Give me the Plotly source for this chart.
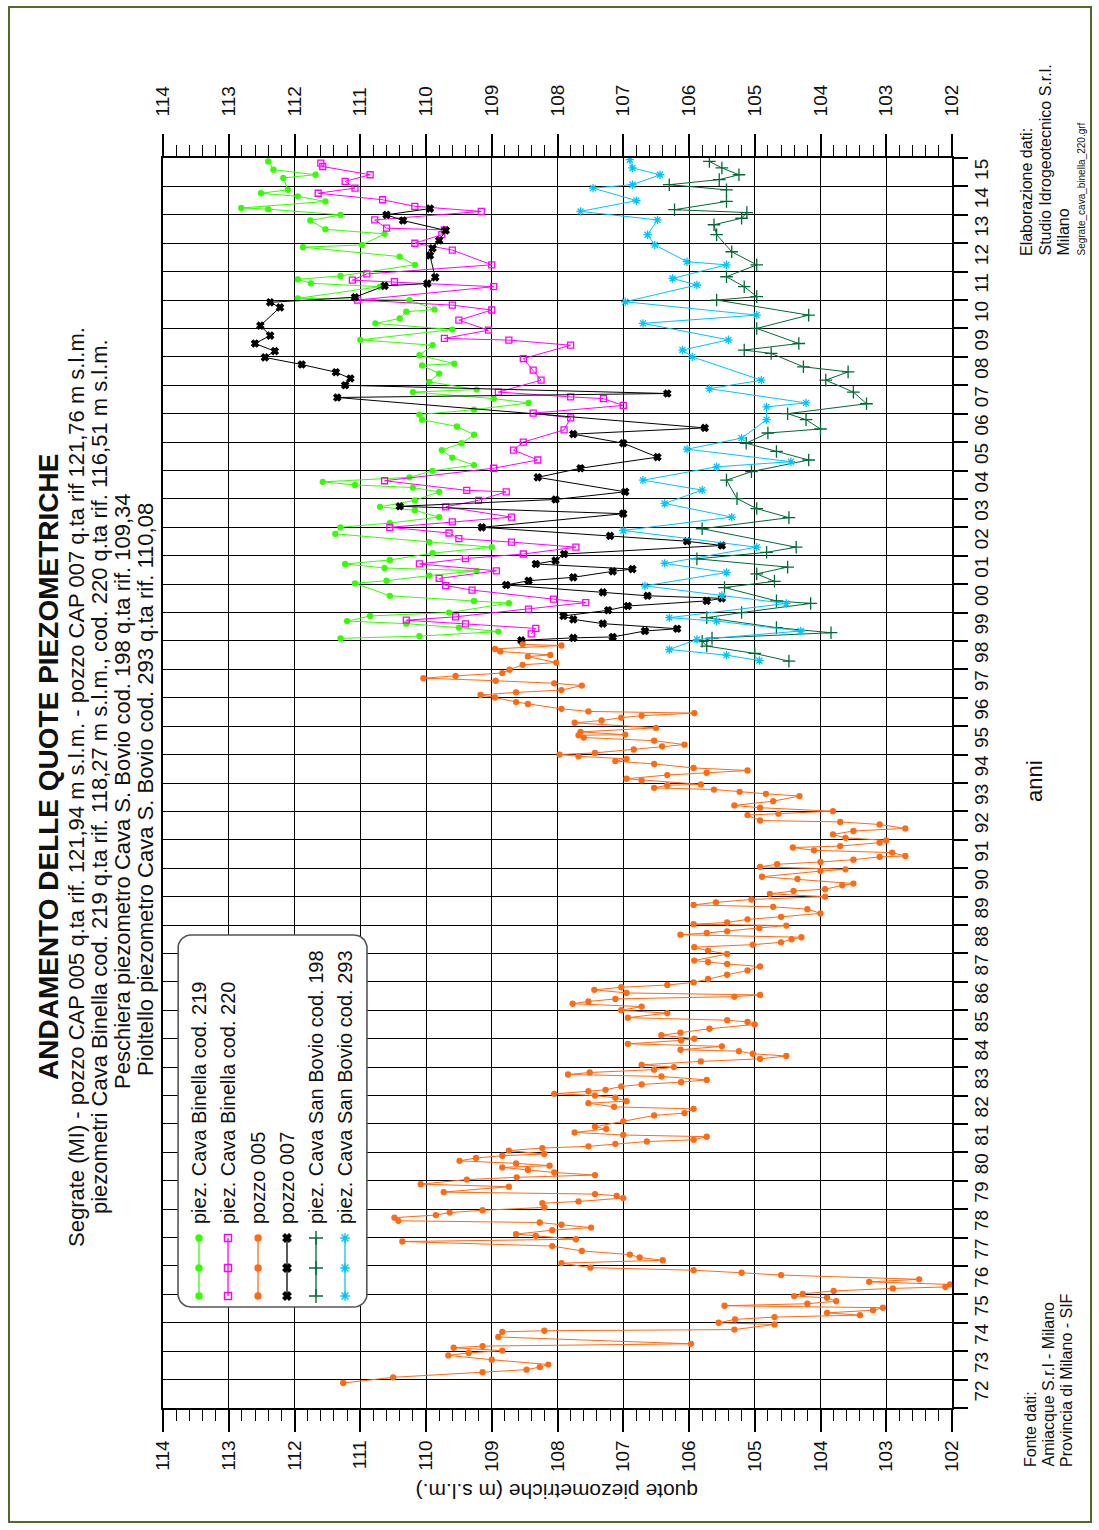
import numpy as np
import plotly.graph_objects as go

FONT = "Liberation Sans, Arial, sans-serif"
FIG_W, FIG_H = 1099, 1530
L, R, T, B = 163, 952, 158, 1408


def px(x):
    return (x - L) / (R - L)


def py(y):
    return (B - y) / (B - T)


# ---------------- data (year, quota m s.l.m.) ----------------
p005_t = [1972.88, 1973.08, 1973.26, 1973.35, 1973.44, 1973.53, 1973.70, 1973.85, 1973.94, 1974.02,
          1974.12, 1974.18, 1974.26, 1974.50, 1974.68, 1974.72, 1974.76, 1974.94, 1975.00, 1975.12,
          1975.20, 1975.27, 1975.35, 1975.44, 1975.53, 1975.60, 1975.67, 1975.76, 1975.88, 1975.94,
          1976.02, 1976.12, 1976.21, 1976.26, 1976.35, 1976.44, 1976.53, 1976.68, 1976.76, 1976.85,
          1976.94, 1977.10, 1977.20, 1977.30, 1977.40, 1977.53, 1977.70, 1977.86, 1977.94, 1978.06,
          1978.12, 1978.26, 1978.35, 1978.45, 1978.53, 1978.59, 1978.70, 1978.79, 1978.88, 1978.96,
          1979.06, 1979.21, 1979.27, 1979.39, 1979.47, 1979.53, 1979.60, 1979.79, 1979.88, 1980.04,
          1980.12, 1980.20, 1980.29, 1980.38, 1980.47, 1980.53, 1980.61, 1980.70, 1980.80, 1980.88,
          1980.94, 1981.06, 1981.15, 1981.21, 1981.30, 1981.38, 1981.44, 1981.55, 1981.61, 1981.70,
          1981.82, 1981.90, 1982.09, 1982.30, 1982.38, 1982.53, 1982.60, 1982.73, 1982.80, 1982.92,
          1983.00, 1983.06, 1983.15, 1983.20, 1983.32, 1983.39, 1983.47, 1983.55, 1983.67, 1983.74,
          1983.81, 1983.91, 1984.00, 1984.08, 1984.20, 1984.29, 1984.39, 1984.47, 1984.56, 1984.61,
          1984.73, 1984.82, 1984.94, 1985.00, 1985.12, 1985.21, 1985.35, 1985.50, 1985.59, 1985.65,
          1985.74, 1985.90, 1986.00, 1986.13, 1986.23, 1986.31, 1986.40, 1986.48, 1986.54, 1986.61,
          1986.72, 1986.81, 1986.89, 1986.98, 1987.10, 1987.25, 1987.40, 1987.54, 1987.63, 1987.70,
          1987.75, 1987.98, 1988.10, 1988.22, 1988.31, 1988.39, 1988.50, 1988.57, 1988.66, 1988.72,
          1988.78, 1988.90, 1988.98, 1989.03, 1989.09, 1989.20, 1989.29, 1989.41, 1989.56, 1989.64,
          1989.71, 1989.80, 1989.90, 1990.00, 1990.10, 1990.20, 1990.26, 1990.40, 1990.46, 1990.62,
          1990.70, 1990.90, 1990.96, 1991.05, 1991.14, 1991.22, 1991.30, 1991.40, 1991.43, 1991.55,
          1991.63, 1991.73, 1991.78, 1991.90, 1991.98, 1992.07, 1992.19, 1992.31, 1992.40, 1992.54,
          1992.63, 1992.68, 1992.87, 1992.92, 1993.01, 1993.13, 1993.21, 1993.36, 1993.54, 1993.62,
          1993.69, 1993.77, 1993.83, 1993.92, 1993.95, 1994.09, 1994.15, 1994.28, 1994.36, 1994.44,
          1994.53, 1994.67, 1994.77, 1994.85, 1994.94, 1995.00, 1995.06, 1995.18, 1995.29, 1995.35,
          1995.49, 1995.60, 1995.68, 1995.70, 1995.80, 1995.94, 1996.12, 1996.20, 1996.30, 1996.37,
          1996.46, 1996.52, 1996.61, 1996.78, 1996.85, 1997.01, 1997.10, 1997.19, 1997.27, 1997.43,
          1997.51, 1997.60, 1997.69, 1997.77, 1997.87, 1997.99, 1998.16, 1998.24, 1998.45, 1998.51,
          1998.63, 1998.72, 1998.84, 1998.88]
p005_v = [111.26, 110.50, 109.14, 108.47, 108.27, 108.14, 109.00, 109.66, 109.35, 108.84,
          109.58, 109.14, 105.97, 108.90, 108.84, 108.20, 105.31, 104.70, 105.55, 105.30,
          104.70, 103.40, 103.90, 103.20, 103.05, 105.46, 104.20, 103.76, 103.90, 104.40,
          104.27, 103.80, 102.90, 102.10, 102.03, 103.26, 102.50, 104.60, 105.20, 105.93,
          107.50, 107.94, 106.40, 106.75, 106.90, 107.63, 108.08, 110.36, 107.72, 108.33,
          108.63, 108.08, 107.49, 107.94, 108.27, 110.42, 110.48, 109.85, 109.64, 109.14,
          108.20, 108.23, 107.68, 107.00, 107.10, 107.43, 109.73, 108.74, 110.08, 109.38,
          108.62, 107.43, 108.05, 108.45, 108.84, 108.12, 108.63, 109.49, 109.24, 108.84,
          108.20, 108.74, 108.23, 107.53, 107.12, 106.64, 105.93, 105.73, 107.00, 107.74,
          107.26, 107.43, 107.00, 106.53, 106.07, 105.93, 107.14, 107.53, 106.95, 107.12,
          107.43, 108.05, 107.53, 107.27, 107.03, 106.72, 106.12, 105.73, 106.42, 107.84,
          107.51, 106.53, 106.23, 106.72, 105.82, 104.92, 104.52, 105.03, 105.24, 106.13,
          105.50, 106.93, 106.12, 105.92, 106.42, 106.13, 105.69, 105.00, 105.11, 105.42,
          106.93, 106.33, 107.03, 106.72, 107.77, 107.53, 107.12, 105.31, 104.92, 106.95,
          107.44, 107.03, 106.33, 105.93, 105.71, 105.42, 105.11, 104.92, 105.42, 105.71,
          105.92, 105.42, 105.71, 105.92, 105.03, 104.60, 104.44, 104.29, 106.13, 105.73,
          105.42, 104.93, 104.52, 105.93, 105.42, 105.11, 104.60, 104.00, 104.20, 104.72,
          105.93, 105.59, 105.05, 103.93, 104.77, 104.41, 103.93, 103.67, 103.50, 104.35,
          104.89, 104.00, 103.62, 104.92, 104.66, 104.00, 103.50, 103.10, 102.71, 102.91,
          104.10, 104.42, 103.70, 103.10, 103.00, 103.62, 103.81, 103.50, 102.71, 103.10,
          103.70, 104.92, 105.11, 104.64, 103.81, 104.92, 105.31, 104.72, 104.32, 104.83,
          105.23, 105.62, 106.53, 106.33, 105.82, 106.72, 106.95, 106.33, 105.73, 105.11,
          105.93, 106.53, 107.12, 106.95, 107.68, 107.97, 107.43, 106.84, 106.41, 106.07,
          106.53, 107.60, 107.68, 106.97, 107.65, 106.50, 107.74, 107.33, 107.03, 106.72,
          105.92, 107.53, 107.94, 108.45, 108.63, 108.95, 109.17, 108.63, 107.94, 107.63,
          108.05, 108.94, 110.04, 109.55, 108.84, 108.73, 108.53, 108.02, 108.45, 108.11,
          108.87, 108.95, 107.94, 108.53]

p007_t = [1999.02, 1999.11, 1999.14, 1999.35, 1999.43, 1999.61, 1999.76, 1999.88, 2000.08, 2000.23,
          2000.41, 2000.50, 2000.59, 2000.71, 2000.97, 2001.12, 2001.24, 2001.45, 2001.53, 2001.71,
          2001.83, 2002.06, 2002.36, 2002.51, 2002.70, 2003.00, 2003.48, 2003.74, 2003.98, 2004.25,
          2004.76, 2005.08, 2005.47, 2005.96, 2006.28, 2006.50, 2007.57, 2007.71, 2008.00, 2008.24,
          2008.46, 2008.73, 2008.98, 2009.20, 2009.47, 2009.75, 2010.10, 2010.74, 2010.92, 2011.10,
          2011.50, 2011.58, 2011.80, 2012.57, 2012.82, 2013.10, 2013.45, 2013.80, 2014.00, 2014.22]
p007_v = [108.55, 107.76, 107.16, 106.67, 106.18, 107.31, 107.76, 107.91, 107.23, 106.93,
          105.73, 105.50, 106.63, 107.31, 108.78, 108.44, 107.76, 107.16, 106.86, 108.33,
          108.03, 107.90, 105.50, 106.03, 107.20, 109.15, 107.00, 110.40, 108.03, 106.97,
          108.30, 107.65, 106.48, 107.00, 107.76, 105.76, 111.35, 106.33, 111.23, 111.15,
          111.37, 111.89, 112.45, 112.30, 112.60, 112.37, 112.52, 112.22, 112.37, 111.08,
          110.63, 109.98, 109.86, 109.94, 109.90, 109.80, 109.70, 110.35, 110.60, 109.94]

c219_t = [1999.09, 1999.17, 1999.33, 1999.47, 1999.61, 1999.70, 1999.88, 2000.00, 2000.33, 2000.41,
          2000.59, 2001.03, 2001.12, 2001.30, 2001.47, 2001.57, 2001.71, 2001.85, 2002.09, 2002.30,
          2002.48, 2002.77, 2003.00, 2003.15, 2003.36, 2003.60, 2003.72, 2003.95, 2004.25, 2004.40,
          2004.49, 2004.60, 2004.76, 2004.99, 2005.19, 2005.45, 2005.72, 2005.96, 2006.26, 2006.55,
          2006.79, 2006.97, 2007.14, 2007.38, 2007.53, 2007.76, 2007.85, 2008.12, 2008.41, 2008.70,
          2008.76, 2009.06, 2009.41, 2009.60, 2009.96, 2010.18, 2010.35, 2010.59, 2010.67, 2011.00,
          2011.06, 2011.47, 2011.59, 2011.73, 2011.85, 2012.24, 2012.53, 2012.86, 2012.94, 2013.33,
          2013.49, 2013.80, 2014.00, 2014.20, 2014.24, 2014.47, 2014.65, 2014.76, 2014.88, 2015.30,
          2015.41, 2015.59, 2015.88]
c219_v = [111.30, 110.10, 108.90, 109.50, 110.30, 111.20, 110.85, 109.65, 108.74, 109.27,
          110.55, 111.08, 110.60, 109.95, 109.23, 110.63, 111.23, 110.55, 109.90, 109.00,
          109.95, 111.38, 111.30, 110.55, 109.80, 110.17, 110.70, 110.17, 109.80, 110.20,
          111.08, 111.57, 110.25, 109.90, 109.27, 109.60, 109.76, 109.46, 109.27, 109.53,
          110.06, 110.10, 109.27, 108.44, 108.97, 110.20, 109.23, 109.95, 109.80, 110.06,
          109.57, 110.10, 109.90, 111.00, 109.60, 110.77, 110.40, 110.30, 109.87, 110.25,
          111.95, 110.70, 111.75, 111.95, 111.30, 110.17, 110.40, 111.87, 110.97, 110.63,
          111.53, 111.76, 111.30, 112.40, 112.81, 111.53, 111.95, 112.51, 112.10, 112.17,
          111.68, 112.32, 112.40]

c220_t = [1999.25, 1999.44, 1999.60, 1999.73, 1999.85, 2000.12, 2000.35, 2000.47, 2000.79, 2000.95,
          2001.20, 2001.47, 2001.71, 2001.90, 2002.06, 2002.30, 2002.48, 2002.60, 2002.80, 2003.00,
          2003.19, 2003.36, 2003.72, 2003.95, 2004.25, 2004.30, 2004.64, 2005.08, 2005.37, 2005.72,
          2006.00, 2006.43, 2006.85, 2007.02, 2007.29, 2007.53, 2007.59, 2007.76, 2008.18, 2008.53,
          2008.94, 2009.41, 2009.59, 2009.65, 2009.94, 2010.29, 2010.65, 2010.82, 2011.00, 2011.47,
          2011.65, 2011.70, 2011.92, 2012.24, 2012.76, 2013.00, 2013.30, 2013.47, 2013.53, 2013.82,
          2014.12, 2014.30, 2014.53, 2014.76, 2014.94, 2015.18, 2015.41, 2015.70, 2015.82]
c220_v = [108.40, 108.33, 109.40, 110.30, 109.55, 108.44, 107.57, 108.06, 109.30, 109.70,
          109.80, 108.93, 110.10, 109.40, 108.52, 107.72, 108.70, 109.50, 109.65, 110.55,
          109.60, 108.70, 109.70, 109.20, 108.78, 109.38, 110.63, 108.97, 108.30, 108.67,
          108.52, 107.90, 107.80, 108.37, 107.00, 107.30, 107.80, 108.90, 108.25, 108.37,
          108.52, 107.80, 108.74, 109.72, 109.05, 109.50, 109.00, 109.60, 111.04, 108.97,
          110.48, 111.12, 110.90, 109.00, 109.60, 110.17, 109.76, 109.72, 110.60, 110.78,
          109.16, 110.17, 110.66, 111.64, 111.08, 111.23, 110.85, 111.57, 111.60]

b198_t = [1998.29, 1998.56, 1998.82, 1998.99, 1999.10, 1999.29, 1999.47, 1999.82, 2000.00, 2000.32,
          2000.41, 2000.88, 2001.10, 2001.36, 2001.60, 2001.89, 2002.12, 2002.30, 2002.95, 2003.34,
          2003.66, 2004.01, 2004.66, 2004.96, 2005.37, 2005.67, 2005.96, 2006.32, 2006.46, 2006.79,
          2007.00, 2007.35, 2007.76, 2008.18, 2008.47, 2008.65, 2009.12, 2009.24, 2009.47, 2010.00,
          2010.47, 2011.00, 2011.12, 2011.47, 2011.82, 2012.24, 2012.70, 2013.30, 2013.65, 2013.88,
          2014.08, 2014.18, 2014.47, 2014.88, 2015.06, 2015.24, 2015.41, 2015.65, 2015.88]
b198_v = [104.48, 105.00, 105.73, 105.80, 105.65, 103.84, 104.67, 105.73, 105.20, 104.15,
          104.67, 105.46, 104.70, 104.97, 104.50, 105.88, 104.82, 104.37, 105.80, 104.48,
          104.97, 105.27, 105.43, 105.05, 104.18, 104.67, 105.13, 104.80, 104.00, 104.22,
          104.50, 103.30, 103.50, 103.92, 103.58, 104.26, 104.75, 105.16, 104.33, 104.97,
          104.18, 105.58, 104.97, 105.16, 105.43, 104.97, 105.35, 105.58, 105.62, 105.20,
          105.12, 106.22, 105.43, 105.43, 106.30, 105.54, 105.24, 105.50, 105.69]

b293_t = [1998.31, 1998.50, 1998.70, 1999.05, 1999.35, 1999.70, 1999.82, 2000.32, 2000.60, 2000.94,
          2001.41, 2001.73, 2002.30, 2002.89, 2003.36, 2003.84, 2004.31, 2004.66, 2005.13, 2005.31,
          2005.75, 2006.14, 2006.79, 2007.24, 2007.38, 2007.88, 2008.18, 2009.00, 2009.24, 2009.60,
          2010.18, 2010.47, 2010.94, 2011.53, 2011.76, 2012.24, 2012.35, 2012.94, 2013.30, 2013.82,
          2014.12, 2014.50, 2014.94, 2015.06, 2015.41, 2015.65, 2015.94]
b293_v = [104.93, 105.43, 106.30, 105.88, 104.30, 105.58, 106.30, 104.52, 105.50, 106.67,
          105.43, 106.37, 104.97, 107.00, 105.35, 106.37, 105.80, 106.70, 105.58, 104.45,
          106.03, 105.20, 104.82, 104.82, 104.22, 105.69, 104.90, 105.95, 106.10, 105.40,
          106.70, 104.97, 106.97, 105.88, 106.25, 105.43, 106.03, 106.52, 106.63, 106.48,
          107.65, 106.80, 107.46, 106.86, 106.44, 106.86, 106.90]

names = ["piez. Cava Binella cod. 219", "piez. Cava Binella cod. 220", "pozzo 005",
         "pozzo 007", "piez. Cava San Bovio cod. 198", "piez. Cava San Bovio cod. 293"]
years = list(range(1972, 2017))
year_labels = [str(y)[2:] for y in range(1972, 2016)]
quota_ticks = list(range(102, 115))

# ---------------- styles ----------------
styles = [
    dict(color="#33ff00", symbol="circle", size=5),
    dict(color="#ff00ff", symbol="square-open", size=6),
    dict(color="#ff6a13", symbol="circle", size=5),
    dict(color="#000000", symbol="x", size=6),
    dict(color="#006a35", symbol="cross-thin-open", size=9),
    dict(color="#00c4ff", symbol="asterisk-open", size=7),
]
data = [(c219_t, c219_v), (c220_t, c220_v), (p005_t, p005_v),
        (p007_t, p007_v), (b198_t, b198_v), (b293_t, b293_v)]

fig = go.Figure()
for i, ((t, v), st) in enumerate(zip(data, styles)):
    fig.add_trace(go.Scatter(
        x=v, y=t, mode="lines+markers", name=names[i], showlegend=False,
        xaxis="x2" if i == 2 else "x", yaxis="y",
        line=dict(color=st["color"], width=1),
        marker=dict(symbol=st["symbol"], size=st["size"], color=st["color"],
                    line=dict(color=st["color"], width=1.3)),
        hoverinfo="x+y+name"))

# ---------------- legend (drawn manually, rotated) ----------------
bx0, bx1, by0, by1, rr = 178, 367, 935, 1307, 13
ang = np.linspace(0, np.pi / 2, 10)
path_x, path_y = [], []
for cx, cy, a0 in [(bx1 - rr, by0 + rr, -np.pi / 2), (bx1 - rr, by1 - rr, 0),
                   (bx0 + rr, by1 - rr, np.pi / 2), (bx0 + rr, by0 + rr, np.pi)]:
    for a in ang + a0:
        path_x.append(cx + rr * np.cos(a))
        path_y.append(cy + rr * np.sin(a))
path_x.append(path_x[0])
path_y.append(path_y[0])
fig.add_trace(go.Scatter(x=path_x, y=path_y, xaxis="x3", yaxis="y3", mode="lines",
                         fill="toself", fillcolor="white",
                         line=dict(color="#555555", width=1.6),
                         showlegend=False, hoverinfo="skip"))

leg_x = [199, 228, 258, 287, 316, 345]
for i, st in enumerate(styles):
    fig.add_trace(go.Scatter(
        x=[leg_x[i]] * 3, y=[1238, 1268, 1296], xaxis="x3", yaxis="y3",
        mode="lines+markers", showlegend=False, hoverinfo="skip",
        line=dict(color=st["color"], width=1.3),
        marker=dict(symbol=st["symbol"], size=st["size"] + 1, color=st["color"],
                    line=dict(color=st["color"], width=1.4))))

annotations = []
for i, nm in enumerate(names):
    annotations.append(dict(text=nm, x=px(leg_x[i]), y=py(1226), xref="paper", yref="paper",
                            xanchor="center", yanchor="bottom", textangle=-90, showarrow=False,
                            font=dict(family=FONT, size=20, color="#111111")))

# ---------------- titles & notes ----------------
titles = [
    ("<b>ANDAMENTO DELLE QUOTE PIEZOMETRICHE</b>", 48, 767, 28),
    ("Segrate (MI) - pozzo CAP 005 q.ta rif. 121,94 m s.l.m. - pozzo CAP 007 q.ta rif 121,76 m s.l.m.", 76, 787, 22),
    ("piezometri Cava Binella cod. 219 q.ta rif. 118,27 m s.l.m., cod. 220 q.ta rif. 116,51 m s.l.m.", 99, 777, 22),
    ("Peschiera piezometro Cava S. Bovio cod. 198 q.ta rif. 109,34", 122, 791, 22),
    ("Pioltello piezometro Cava S. Bovio cod. 293 q.ta rif. 110,08", 145, 790, 22),
]
for txt, x, y, s in titles:
    annotations.append(dict(text=txt, x=px(x), y=py(y), xref="paper", yref="paper",
                            xanchor="center", yanchor="middle", textangle=-90, showarrow=False,
                            font=dict(family=FONT, size=s, color="#111111")))

annotations.append(dict(text="anni", x=px(1035), y=py(781), xref="paper", yref="paper",
                        xanchor="center", yanchor="middle", textangle=-90, showarrow=False,
                        font=dict(family=FONT, size=22, color="#111111")))
annotations.append(dict(text="quote piezometriche (m s.l.m.)", x=px(557), y=py(1492),
                        xref="paper", yref="paper", xanchor="center", yanchor="middle",
                        textangle=180, showarrow=False,
                        font=dict(family=FONT, size=21, color="#111111")))

notes_bottom = [("Fonte dati:", 1030), ("Amiacque S.r.l - Milano", 1048),
                ("Provincia di Milano - SIF", 1066)]
for txt, x in notes_bottom:
    annotations.append(dict(text=txt, x=px(x), y=py(1469), xref="paper", yref="paper",
                            xanchor="center", yanchor="bottom", textangle=-90, showarrow=False,
                            font=dict(family=FONT, size=16, color="#111111")))
notes_top = [("Elaborazione dati:", 1027, 16), ("Studio Idrogeotecnico S.r.l.", 1045, 16),
             ("Milano", 1063, 16), ("Segrate_cava_binella_220.grf", 1081, 10)]
for txt, x, s in notes_top:
    annotations.append(dict(text=txt, x=px(x), y=py(258), xref="paper", yref="paper",
                            xanchor="center", yanchor="bottom", textangle=-90, showarrow=False,
                            font=dict(family=FONT, size=s, color="#111111")))

# ---------------- axes ----------------
tickfont = dict(family=FONT, size=19, color="#111111")
common_x = dict(range=[114, 102], tickmode="array", tickvals=quota_ticks,
                ticktext=[str(q) for q in quota_ticks], ticks="outside", ticklen=22,
                tickwidth=1.6, tickcolor="black", tickangle=-90, tickfont=tickfont,
                showline=True, linecolor="black", linewidth=1.6, zeroline=False,
                minor=dict(dtick=0.2, tick0=102, ticks="outside", ticklen=11, tickwidth=1.3,
                           tickcolor="black", showgrid=False))

fig.update_layout(
    width=FIG_W, height=FIG_H,
    margin=dict(l=L, r=FIG_W - R, t=T, b=FIG_H - B, autoexpand=False),
    paper_bgcolor="white", plot_bgcolor="white",
    font=dict(family=FONT, color="#111111"),
    showlegend=False,
    xaxis=dict(**common_x, side="bottom", showgrid=True, gridcolor="black", gridwidth=1.4,
               ticklabelstandoff=1),
    xaxis2=dict(**common_x, side="top", overlaying="x", showgrid=False,
                ticklabelstandoff=14),
    yaxis=dict(range=[1972, 2016], side="right", tickmode="array",
               tickvals=[y + 0.5 for y in years[:-1]], ticktext=year_labels,
               ticks="", tickangle=-90, tickfont=tickfont, ticklabelstandoff=11,
               showgrid=False, showline=True, mirror=True, linecolor="black", linewidth=1.6,
               zeroline=False,
               minor=dict(tickmode="array", tickvals=years, ticks="outside", ticklen=14,
                          tickwidth=1.5, tickcolor="black", showgrid=True,
                          gridcolor="black", gridwidth=1.4)),
    xaxis3=dict(overlaying="x", range=[L, R], visible=False),
    yaxis3=dict(overlaying="y", range=[B, T], visible=False),
    annotations=annotations,
    shapes=[dict(type="rect", xref="paper", yref="paper", x0=px(9), x1=px(1091),
                 y0=py(1522), y1=py(7), line=dict(color="#4f6b2a", width=2),
                 fillcolor="rgba(0,0,0,0)", layer="below")],
)

fig.write_html("out.html", config={"displayModeBar": False},
               post_script="document.body.style.margin='0';document.body.style.overflow='hidden';")
